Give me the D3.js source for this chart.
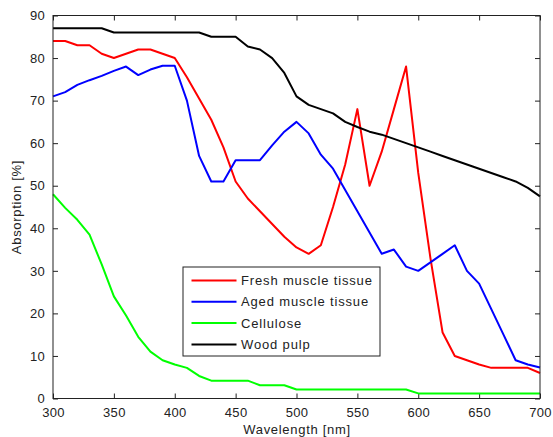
<!DOCTYPE html>
<html>
<head>
<meta charset="utf-8">
<script src="https://cdn.jsdelivr.net/npm/d3@7"></script>
<style>
  body { margin: 0; background: #fff; }
  text { font-family: "Liberation Sans", Arial, sans-serif; fill: #222; }
</style>
</head>
<body>
<svg id="chart"></svg>
<script>
// Bølgelængder (nm)
const wavelengths = d3.range(300, 701, 10);

// Serier
const fresh = [84, 84, 83, 83, 81, 80, 81, 82, 82, 81, 80, 75.5, 70.5, 65.5, 59, 51, 47, 44, 41, 38, 35.5, 34, 36, 45, 55, 68, 50, 58, 68, 78, 53, 33, 15.5, 10, 9, 8, 7.2, 7.2, 7.2, 7.2, 6];
const aged = [71, 72, 73.7, 74.8, 75.8, 77, 78, 76, 77.3, 78.2, 78.2, 70, 57, 51, 51, 56, 56, 56, 59.5, 62.7, 65, 62.3, 57.3, 54, 49, 44, 39, 34, 35, 31, 30, 32, 34, 36, 30, 27, 21, 15, 9, 8, 7.3];
const cellulose = [48, 44.8, 42, 38.5, 31.5, 24, 19.5, 14.5, 11, 9, 8, 7.2, 5.3, 4.2, 4.2, 4.2, 4.2, 3.1, 3.1, 3.1, 2.1, 2.1, 2.1, 2.1, 2.1, 2.1, 2.1, 2.1, 2.1, 2.1, 1.2, 1.2, 1.2, 1.2, 1.2, 1.2, 1.2, 1.2, 1.2, 1.2, 1.2];
const woodPulp = [87, 87, 87, 87, 87, 86, 86, 86, 86, 86, 86, 86, 86, 85, 85, 85, 82.7, 82, 80, 76.5, 71, 69, 68, 67, 65, 63.8, 62.7, 62, 61, 60, 59, 58, 57, 56, 55, 54, 53, 52, 51, 49.5, 47.5];

const seriesNames = ["Fresh muscle tissue", "Aged muscle tissue", "Cellulose", "Wood pulp"];
const seriesValues = [fresh, aged, cellulose, woodPulp];
const seriesColors = ["#ff0000", "#0000ff", "#00ff00", "#000000"];

const xTicks = [300, 350, 400, 450, 500, 550, 600, 650, 700];
const yTicks = [0, 10, 20, 30, 40, 50, 60, 70, 80, 90];

// Margener og tegneområde
const W = 553, H = 437;
const margin = { top: 15.5, right: 13, bottom: 38.5, left: 53 };
const width = W - margin.left - margin.right,
      height = H - margin.top - margin.bottom;

const svg = d3.select("#chart").attr("width", W).attr("height", H);
const g = svg.append("g").attr("transform", `translate(${margin.left},${margin.top})`);

const x = d3.scaleLinear().domain([300, 700]).range([0, width]);
const y = d3.scaleLinear().domain([0, 90]).range([height, 0]);

// Akser (ticks indad, MATLAB-stil)
function styleAxis(sel) {
  sel.select(".domain").remove();
  sel.selectAll(".tick line").attr("stroke", "#222");
  sel.selectAll(".tick text").style("font-size", "13px").style("letter-spacing", "0.3px").attr("fill", "#222");
}
g.append("g").attr("transform", `translate(0,${height})`)
  .call(d3.axisBottom(x).tickValues(xTicks).tickSizeInner(-5).tickSizeOuter(0).tickPadding(9))
  .call(styleAxis);
g.append("g")
  .call(d3.axisTop(x).tickValues(xTicks).tickSizeInner(-5).tickSizeOuter(0).tickFormat(""))
  .call(styleAxis);
g.append("g")
  .call(d3.axisLeft(y).tickValues(yTicks).tickSizeInner(-5).tickSizeOuter(0).tickPadding(8))
  .call(styleAxis);
g.append("g").attr("transform", `translate(${width},0)`)
  .call(d3.axisRight(y).tickValues(yTicks).tickSizeInner(-5).tickSizeOuter(0).tickFormat(""))
  .call(styleAxis);

// Kurver
const line = d3.line().x((d, i) => x(wavelengths[i])).y(d => y(d));
seriesValues.forEach((vals, k) => {
  g.append("path")
    .datum(vals)
    .attr("fill", "none")
    .attr("stroke", seriesColors[k])
    .attr("stroke-width", 2)
    .attr("stroke-linejoin", "round")
    .attr("d", line);
});

// Ramme
g.append("rect").attr("width", width).attr("height", height)
  .attr("fill", "none").attr("stroke", "#222").attr("stroke-width", 1);

// Aksetitler
g.append("text").attr("x", width / 2 + 0.5).attr("y", height + 35)
  .attr("text-anchor", "middle").style("font-size", "13px").style("letter-spacing", "0.7px")
  .text("Wavelength [nm]");
g.append("text").attr("transform", `translate(-32,${height / 2}) rotate(-90)`)
  .attr("text-anchor", "middle").style("font-size", "13px").style("letter-spacing", "0.7px")
  .text("Absorption [%]");

// Forklaring
const lg = g.append("g").attr("transform", `translate(${183 - margin.left},${267 - margin.top})`);
lg.append("rect").attr("width", 197).attr("height", 89)
  .attr("fill", "#fff").attr("stroke", "#222").attr("stroke-width", 1);
seriesNames.forEach((name, k) => {
  const yy = 13.5 + k * 21.3;
  lg.append("line").attr("x1", 8.5).attr("x2", 53.5).attr("y1", yy).attr("y2", yy)
    .attr("stroke", seriesColors[k]).attr("stroke-width", 2);
  lg.append("text").attr("x", 58).attr("y", yy + 4.5)
    .style("font-size", "13px").style("letter-spacing", "0.85px").text(name);
});
</script>
</body>
</html>
